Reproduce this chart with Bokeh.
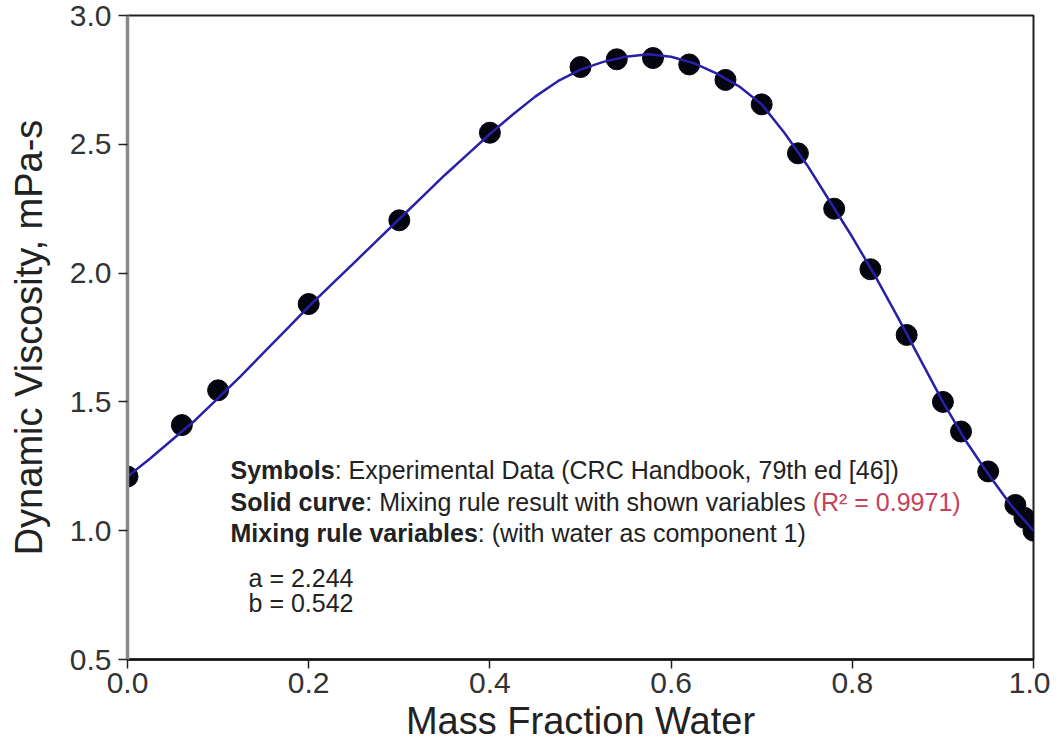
from bokeh.plotting import figure
from bokeh.models import Range1d, FixedTicker, PrintfTickFormatter, Label
from bokeh.embed import file_html
from bokeh.resources import INLINE

# Experimental data (CRC Handbook)
exp_x = [0.0, 0.06, 0.10, 0.20, 0.30, 0.40, 0.50, 0.54, 0.58, 0.62, 0.66,
         0.70, 0.74, 0.78, 0.82, 0.86, 0.90, 0.92, 0.95, 0.98, 0.99, 1.0]
exp_y = [1.21, 1.41, 1.545, 1.88, 2.205, 2.545, 2.80, 2.83, 2.835, 2.81, 2.75,
         2.655, 2.465, 2.25, 2.015, 1.76, 1.50, 1.385, 1.23, 1.10, 1.05, 1.00]

# Mixing rule curve
fit_x = [0.0, 0.025, 0.05, 0.075, 0.10, 0.125, 0.15, 0.175, 0.20, 0.225, 0.25,
         0.275, 0.30, 0.325, 0.35, 0.375, 0.40, 0.425, 0.45, 0.475, 0.50,
         0.525, 0.55, 0.575, 0.60, 0.625, 0.65, 0.675, 0.70, 0.725, 0.75,
         0.775, 0.80, 0.825, 0.85, 0.875, 0.90, 0.925, 0.95, 0.975, 1.0]
fit_y = [1.21, 1.28, 1.355, 1.43, 1.515, 1.60, 1.69, 1.78, 1.87, 1.955, 2.04,
         2.125, 2.21, 2.295, 2.38, 2.46, 2.54, 2.615, 2.685, 2.745, 2.79,
         2.82, 2.84, 2.85, 2.84, 2.815, 2.775, 2.725, 2.655, 2.545, 2.42,
         2.28, 2.14, 1.99, 1.83, 1.665, 1.50, 1.35, 1.22, 1.10, 1.00]

x_ticks = [0.0, 0.2, 0.4, 0.6, 0.8, 1.0]
y_ticks = [0.5, 1.0, 1.5, 2.0, 2.5, 3.0]

FONT = "Liberation Sans"
TXT = "#222222"
RED = "#c4415a"
FS = 25

# Arial / Liberation Sans advance widths (per 1000 em)
REG = {' ': 278, '(': 333, ')': 333, ',': 278, '-': 333, '.': 278, ':': 278,
       '=': 584, '[': 278, ']': 278, '²': 333}
for ch in '0123456789':
    REG[ch] = 556
REG.update({'A': 667, 'C': 722, 'D': 722, 'E': 667, 'H': 722, 'M': 833,
            'R': 722, 'S': 667, 'a': 556, 'b': 556, 'c': 500, 'd': 556,
            'e': 556, 'f': 278, 'g': 556, 'h': 556, 'i': 222, 'k': 500,
            'l': 222, 'm': 833, 'n': 556, 'o': 556, 'p': 556, 'r': 333,
            's': 500, 't': 278, 'u': 556, 'v': 500, 'w': 722, 'x': 500,
            'y': 500})
BOLD = {' ': 278, ':': 333, 'S': 667, 'M': 833, 'a': 556, 'b': 611, 'c': 556,
        'd': 611, 'e': 556, 'g': 611, 'i': 278, 'l': 278, 'm': 889, 'n': 611,
        'o': 611, 'r': 389, 's': 556, 'u': 611, 'v': 556, 'x': 556, 'y': 556}


def width(s, table, fs):
    return sum(table.get(c, 556) for c in s) * fs / 1000.0


p = figure(width=1050, height=744, output_backend="svg", toolbar_location=None,
           x_range=Range1d(0, 1), y_range=Range1d(0.5, 3.0),
           min_border_left=127, min_border_right=17, min_border_top=15,
           min_border_bottom=84)
p.background_fill_color = "white"
p.border_fill_color = "white"
p.outline_line_color = "#222222"
p.outline_line_width = 2
p.grid.visible = False

p.scatter(exp_x, exp_y, size=21, marker="circle", fill_color="#05050f",
          line_color="#05050f")
p.line(fit_x, fit_y, line_color="#2a20a8", line_width=2.5)

for ax in (p.xaxis[0], p.yaxis[0]):
    ax.major_label_text_font = FONT
    ax.major_label_text_font_size = "30px"
    ax.major_label_text_color = "#333333"
    ax.axis_label_text_font = FONT
    ax.axis_label_text_font_size = "38px"
    ax.axis_label_text_font_style = "normal"
    ax.axis_label_text_color = "#222222"
    ax.minor_tick_line_color = None
    ax.major_tick_in = 0
    ax.major_tick_out = 9
    ax.major_tick_line_color = "#222222"
    ax.major_tick_line_width = 1.5
    ax.formatter = PrintfTickFormatter(format="%.1f")

p.xaxis.ticker = FixedTicker(ticks=x_ticks)
p.yaxis.ticker = FixedTicker(ticks=y_ticks)
p.xaxis.axis_label = "Mass Fraction Water"
p.yaxis.axis_label = "Dynamic Viscosity, mPa-s"
p.xaxis.axis_line_color = "#111111"
p.xaxis.axis_line_width = 2.5
p.yaxis.axis_line_color = "#8a8a8a"
p.yaxis.axis_line_width = 3.5
p.xaxis.major_label_standoff = 4
p.yaxis.major_label_standoff = 7
p.xaxis.axis_label_standoff = 4
p.yaxis.axis_label_standoff = 17

# annotation block
lines = [
    (1.236, [("Symbols", "bold", TXT),
             (": Experimental Data (CRC Handbook, 79th ed [46])", "normal", TXT)]),
    (1.112, [("Solid curve", "bold", TXT),
             (": Mixing rule result with shown variables ", "normal", TXT),
             ("(R² = 0.9971)", "normal", RED)]),
    (0.992, [("Mixing rule variables", "bold", TXT),
             (": (with water as component 1)", "normal", TXT)]),
]
x0 = 0.1137
for yv, segs in lines:
    off = 0.0
    for s, style, col in segs:
        p.add_layout(Label(x=x0, y=yv, x_offset=off, text=s, text_font=FONT,
                           text_font_size=f"{FS}px", text_font_style=style,
                           text_color=col, text_baseline="middle",
                           text_align="left"))
        off += width(s, BOLD if style == "bold" else REG, FS)

for yv, s in [(0.818, "a = 2.244"), (0.721, "b = 0.542")]:
    p.add_layout(Label(x=0.1336, y=yv, text=s, text_font=FONT,
                       text_font_size=f"{FS}px", text_color=TXT,
                       text_baseline="middle", text_align="left"))

open("out.html", "w").write(file_html(p, INLINE))
